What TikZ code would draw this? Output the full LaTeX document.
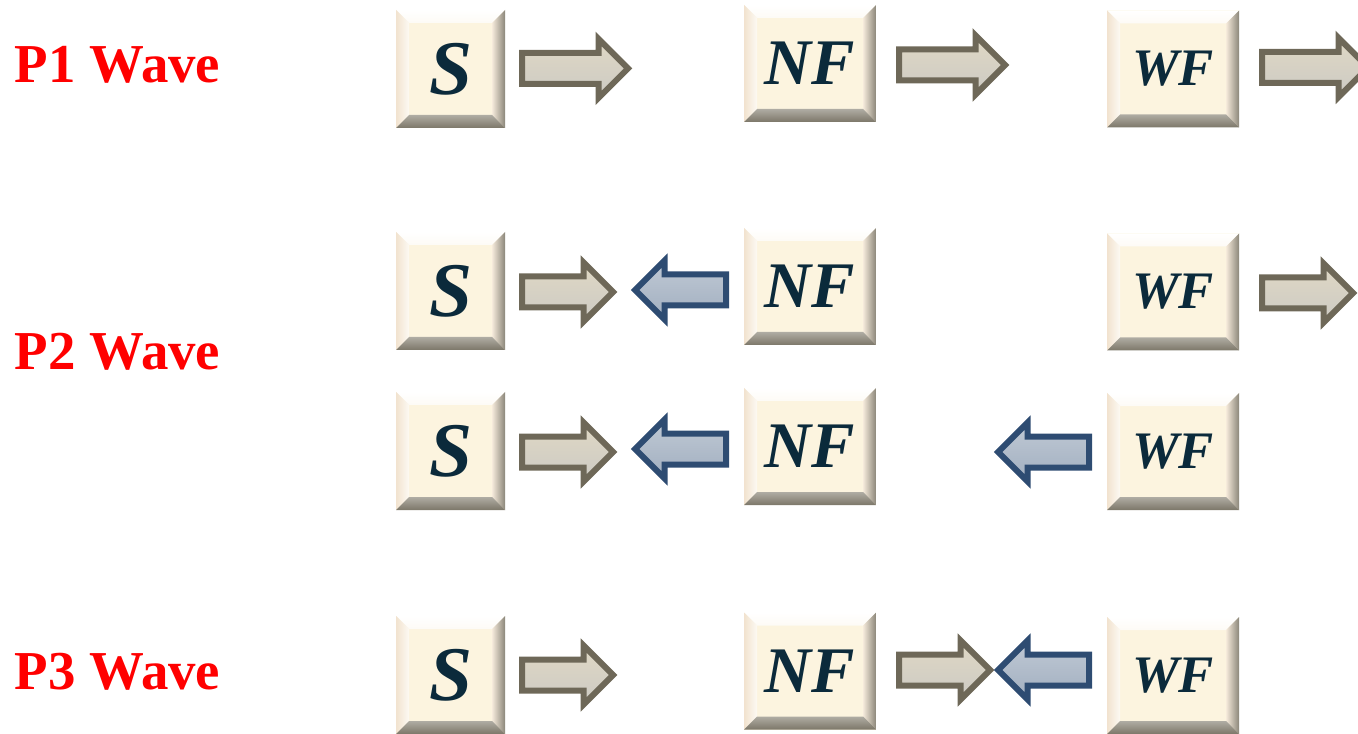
\documentclass[tikz,border=0pt]{standalone}
\usepackage{fontspec}
\setmainfont{Liberation Serif}
\usetikzlibrary{shapes.arrows}
\definecolor{facecream}{HTML}{FCF4DF}
\definecolor{keyink}{HTML}{0B2A3B}
\definecolor{tanedge}{HTML}{6E6858}
\definecolor{blueedge}{HTML}{2E4C72}
\definecolor{wavered}{HTML}{FF0000}
\tikzset{
  keybox/.style={minimum width=1.32cm, minimum height=1.17cm, inner sep=0pt,
    fill=facecream, text=keyink, font=\bfseries\itshape\fontsize{18.5}{18.5}\selectfont,
    path picture={
      \coordinate (nw) at (path picture bounding box.north west);
      \coordinate (ne) at (path picture bounding box.north east);
      \coordinate (sw) at (path picture bounding box.south west);
      \coordinate (se) at (path picture bounding box.south east);
      \shade[top color=white, bottom color=facecream!90!brown!20] (nw) -- (ne) -- ([shift={(-.13,-.13)}]ne) -- ([shift={(.13,-.13)}]nw) -- cycle;
      \shade[left color=facecream!65!brown!55, right color=facecream!90!brown!25] (nw) -- ([shift={(.13,-.13)}]nw) -- ([shift={(.13,.13)}]sw) -- (sw) -- cycle;
      \shade[left color=facecream!70!brown!45, right color=tanedge!80] (ne) -- ([shift={(-.13,-.13)}]ne) -- ([shift={(-.13,.13)}]se) -- (se) -- cycle;
      \shade[top color=tanedge!55, bottom color=tanedge!90] (sw) -- ([shift={(.13,.13)}]sw) -- ([shift={(-.13,.13)}]se) -- (se) -- cycle;
    }},
  smallbox/.style={keybox, minimum width=1.09cm, minimum height=1.18cm,
    font=\bfseries\itshape\fontsize{22}{22}\selectfont},
  wfbox/.style={keybox, font=\bfseries\itshape\fontsize{15}{15}\selectfont},
  tanarrow/.style={single arrow, anchor=tail, draw=tanedge, line width=0.06cm,
    top color=facecream!80!tanedge, middle color=white, bottom color=tanedge!35,
    inner xsep=0pt, inner ysep=0.125cm, single arrow head extend=0.14cm,
    minimum height=0.91cm},
  longarrow/.style={tanarrow, minimum height=1.06cm},
  bluearrow/.style={single arrow, anchor=tail, shape border rotate=180, draw=blueedge, line width=0.06cm,
    top color=blueedge!30, middle color=blueedge!3, bottom color=blueedge!45,
    inner xsep=0pt, inner ysep=0.125cm, single arrow head extend=0.14cm,
    minimum height=0.91cm},
  wavelabel/.style={anchor=west, inner sep=0pt, text=wavered, font=\bfseries\fontsize{15.6}{15.6}\selectfont},
}
\begin{document}
\begin{tikzpicture}
\useasboundingbox (0,0) rectangle (13.58,-7.34);
% wave labels
\node[wavelabel] (p1) at (0.14,-0.65) {P1 Wave};
\node[wavelabel] (p2) at (0.14,-3.52) {P2 Wave};
\node[wavelabel] (p3) at (0.14,-6.72) {P3 Wave};
% P1 row
\node[smallbox] (s1) at (4.505,-0.69) {S};
\node[longarrow] (s1r) at (5.19,-0.685) {};
\node[keybox] (nf1) at (8.10,-0.635) {NF};
\node[longarrow] (nf1r) at (8.96,-0.65) {};
\node[wfbox] (wf1) at (11.73,-0.69) {WF};
\node[longarrow] (wf1r) at (12.59,-0.675) {};
% P2 rows
\node[smallbox] (s2) at (4.505,-2.91) {S};
\node[tanarrow] (s2r) at (5.19,-2.92) {};
\node[bluearrow] (nf2l) at (7.29,-2.90) {};
\node[keybox] (nf2) at (8.10,-2.865) {NF};
\node[wfbox] (wf2) at (11.73,-2.92) {WF};
\node[tanarrow] (wf2r) at (12.59,-2.93) {};
\node[smallbox] (s3) at (4.505,-4.51) {S};
\node[tanarrow] (s3r) at (5.19,-4.52) {};
\node[bluearrow] (nf3l) at (7.29,-4.49) {};
\node[keybox] (nf3) at (8.10,-4.465) {NF};
\node[bluearrow] (wf3l) at (10.92,-4.52) {};
\node[wfbox] (wf3) at (11.73,-4.515) {WF};
% P3 row
\node[smallbox] (s4) at (4.505,-6.75) {S};
\node[tanarrow] (s4r) at (5.19,-6.75) {};
\node[keybox] (nf4) at (8.10,-6.71) {NF};
\node[tanarrow] (nf4r) at (8.96,-6.70) {};
\node[bluearrow] (wf4l) at (10.92,-6.70) {};
\node[wfbox] (wf4) at (11.73,-6.755) {WF};
\end{tikzpicture}
\end{document}
